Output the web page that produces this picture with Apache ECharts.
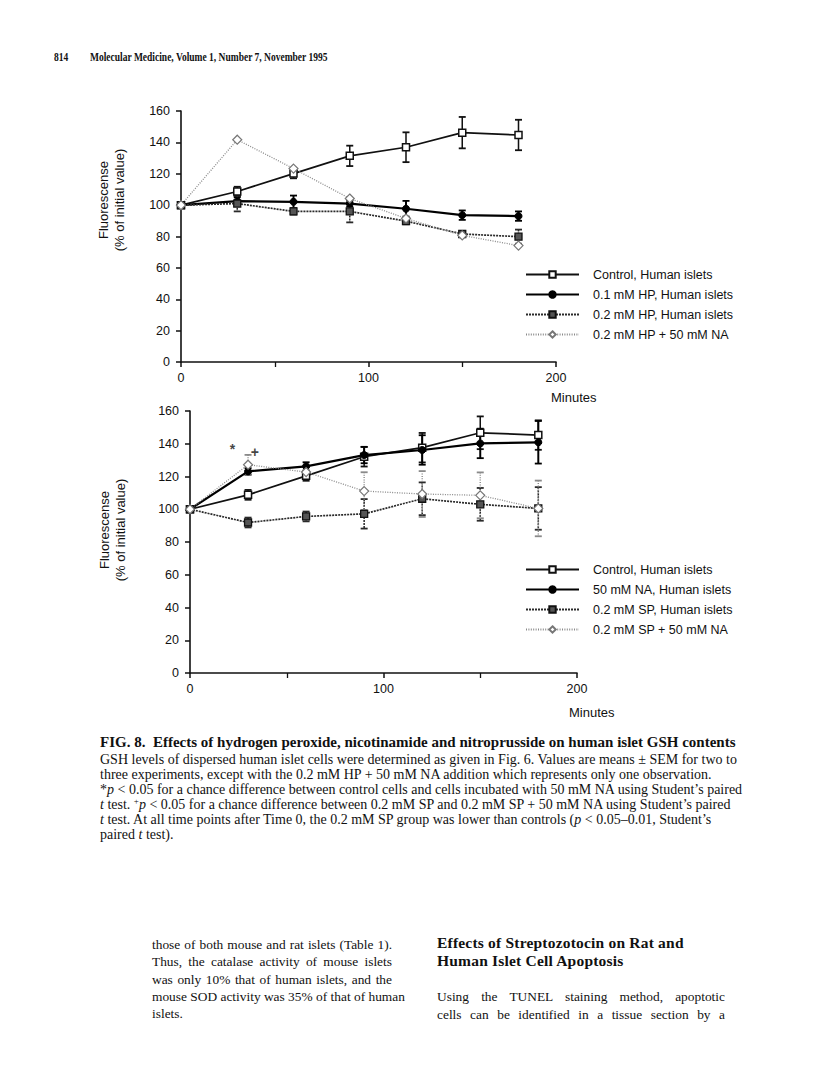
<!DOCTYPE html>
<html>
<head>
<meta charset="utf-8">
<script src="https://cdn.jsdelivr.net/npm/echarts@6/dist/echarts.min.js"></script>
<style>
html,body{margin:0;padding:0;background:#fff;}
#page{position:relative;width:816px;height:1088px;overflow:hidden;background:#fff;}
#chart{position:absolute;left:0;top:0;width:816px;height:1088px;}
.t{position:absolute;white-space:nowrap;font-family:"Liberation Serif","DejaVu Serif",serif;color:#111;}
.hdr{font-size:12.5px;font-weight:bold;line-height:14px;transform-origin:0 50%;transform:scaleX(0.76);}
.cap{font-size:14px;line-height:15px;}
.capt{font-size:15px;font-weight:bold;line-height:16px;}
.body{font-size:13.4px;line-height:17px;text-align:justify;text-align-last:justify;}
.last{text-align-last:left;}
.hd{font-size:15.5px;font-weight:bold;line-height:18px;letter-spacing:0.2px;}
.sp{position:relative;top:-5px;font-size:9px;line-height:0;}
i{font-style:italic;}
</style>
</head>
<body>
<div id="page">
<div id="chart"></div>
<div class="t hdr" style="left:54px;top:50px;">814</div>
<div class="t hdr" style="left:90px;top:50px;">Molecular Medicine, Volume 1, Number 7, November 1995</div>

<div class="t capt" style="left:100px;top:734px;">FIG. 8.&nbsp;&nbsp;Effects of hydrogen peroxide, nicotinamide and nitroprusside on human islet GSH contents</div>
<div class="t cap" style="left:100px;top:752px;">GSH levels of dispersed human islet cells were determined as given in Fig. 6. Values are means ± SEM for two to</div>
<div class="t cap" style="left:100px;top:767px;">three experiments, except with the 0.2 mM HP + 50 mM NA addition which represents only one observation.</div>
<div class="t cap" style="left:100px;top:782px;">*<i>p</i> &lt; 0.05 for a chance difference between control cells and cells incubated with 50 mM NA using Student’s paired</div>
<div class="t cap" style="left:100px;top:797px;"><i>t</i> test. <span class="sp">+</span><i>p</i> &lt; 0.05 for a chance difference between 0.2 mM SP and 0.2 mM SP + 50 mM NA using Student’s paired</div>
<div class="t cap" style="left:100px;top:812px;"><i>t</i> test. At all time points after Time 0, the 0.2 mM SP group was lower than controls (<i>p</i> &lt; 0.05–0.01, Student’s</div>
<div class="t cap" style="left:100px;top:827px;">paired <i>t</i> test).</div>

<div class="t body" style="left:152px;top:936px;width:240px;">those of both mouse and rat islets (Table 1).</div>
<div class="t body" style="left:152px;top:953px;width:240px;">Thus, the catalase activity of mouse islets</div>
<div class="t body" style="left:152px;top:971px;width:240px;">was only 10% that of human islets, and the</div>
<div class="t body" style="left:152px;top:988px;width:240px;">mouse SOD activity was 35% of that of human</div>
<div class="t body last" style="left:152px;top:1005px;width:240px;">islets.</div>

<div class="t hd" style="left:437px;top:934px;">Effects of Streptozotocin on Rat and</div>
<div class="t hd" style="left:437px;top:952px;">Human Islet Cell Apoptosis</div>
<div class="t body" style="left:437px;top:988px;width:288px;">Using the TUNEL staining method, apoptotic</div>
<div class="t body" style="left:437px;top:1006px;width:288px;">cells can be identified in a tissue section by a</div>
</div>
<script>
// ---- data ----
const times = [0, 30, 60, 90, 120, 150, 180];
const xTicks = [0, 100, 200];
const yTicks = [0, 20, 40, 60, 80, 100, 120, 140, 160];

// top panel
const topNames = ['Control, Human islets', '0.1 mM HP, Human islets', '0.2 mM HP, Human islets', '0.2 mM HP + 50 mM NA'];
const topControl    = [100, 108.7, 120.1, 131.4, 136.9, 146.2, 144.7];
const topControlErr = [0, 3, 3, 6.5, 9.5, 10, 9.7];
const topHP01       = [100, 102.5, 102.1, 101.0, 97.7, 93.6, 93.0];
const topHP01Err    = [0, 2.5, 4, 2, 5, 3, 3];
const topHP02       = [100, 101.0, 96.0, 96.0, 89.8, 81.6, 79.9];
const topHP02Err    = [0, 5, 2, 7, 2, 2, 4.5];
const topHPNA       = [100, 141.7, 123.3, 104.2, 91.5, 80.7, 74.2];

// bottom panel
const botNames = ['Control, Human islets', '50 mM NA, Human islets', '0.2 mM SP, Human islets', '0.2 mM SP + 50 mM NA'];
const botControl    = [100, 108.8, 120.4, 132.1, 137.6, 146.7, 145.3];
const botControlErr = [0, 3, 3, 6, 9, 10, 9];
const botNA         = [100, 123.1, 126.2, 133.1, 136.2, 140.2, 140.9];
const botNAErr      = [0, 2, 2.5, 5, 9, 9, 13];
const botSP         = [100, 91.9, 95.6, 97.2, 106.4, 103.0, 100.5];
const botSPErr      = [0, 3, 3, 9, 10, 10, 13];
const botSPNA       = [100, 127.2, 122.7, 111.1, 109.3, 108.5, 100.5];
const botSPNAErr    = [0, 6, 3, 11.5, 14, 14, 17];

// significance marks (minutes, value, label)
const marks = [[22, 136.5, '*'], [33.5, 135, '+']];

// ---- build ----
const FONT = '"Liberation Sans", Arial, sans-serif';
function pairs(ys) { return times.map((t, i) => [t, ys[i]]); }
function errData(ys, es) { return times.map((t, i) => [t, ys[i], es[i]]).filter(d => d[2] > 0); }

const styles = {
  control: { line: { color: '#111', width: 1.7, type: 'solid' }, symbol: 'rect', size: 7, item: { color: '#fff', borderColor: '#111', borderWidth: 1.5 } },
  filled:  { line: { color: '#000', width: 2.2, type: 'solid' }, symbol: 'circle', size: 7, item: { color: '#000', borderColor: '#000', borderWidth: 1 } },
  dark:    { line: { color: '#2a2a2a', width: 1.7, type: [2, 1] }, symbol: 'rect', size: 7, item: { color: '#555', borderColor: '#111', borderWidth: 1.3 } },
  light:   { line: { color: '#8a8a8a', width: 1.3, type: [1, 1.4] }, symbol: 'diamond', size: 9, item: { color: '#fff', borderColor: '#777', borderWidth: 1.2 } }
};

function lineSeries(name, ys, st, gi) {
  return {
    type: 'line', name, data: pairs(ys), xAxisIndex: gi, yAxisIndex: gi,
    symbol: st.symbol, symbolSize: st.size, showSymbol: true,
    lineStyle: st.line, itemStyle: st.item, z: 3, animation: false
  };
}
function errSeries(ys, es, st, gi) {
  const col = st.line.color, dash = Array.isArray(st.line.type) ? st.line.type : null;
  return {
    type: 'custom', xAxisIndex: gi, yAxisIndex: gi, data: errData(ys, es),
    encode: { x: 0, y: 1 }, z: 2, animation: false, silent: true,
    renderItem: function (params, api) {
      const x = api.value(0), y = api.value(1), e = api.value(2);
      const hi = api.coord([x, y + e]), lo = api.coord([x, y - e]);
      const w = 3.5;
      const s = { stroke: col, lineWidth: Math.max(1.4, st.line.width * 0.9), lineDash: dash };
      return { type: 'group', children: [
        { type: 'line', shape: { x1: hi[0], y1: hi[1], x2: lo[0], y2: lo[1] }, style: s },
        { type: 'line', shape: { x1: hi[0] - w, y1: hi[1], x2: hi[0] + w, y2: hi[1] }, style: { stroke: col, lineWidth: 1.8 } },
        { type: 'line', shape: { x1: lo[0] - w, y1: lo[1], x2: lo[0] + w, y2: lo[1] }, style: { stroke: col, lineWidth: 1.8 } }
      ] };
    }
  };
}

function xAxisCfg(gi) {
  return {
    gridIndex: gi, type: 'value', min: xTicks[0], max: xTicks[xTicks.length - 1], interval: xTicks[1] - xTicks[0],
    axisLine: { show: true, onZero: false, lineStyle: { color: '#111', width: 1.6 } },
    axisTick: { show: true, length: 5, lineStyle: { color: '#111', width: 1.5 } },
    minorTick: { show: true, splitNumber: 2, length: 5, lineStyle: { color: '#111', width: 1.3 } },
    splitLine: { show: false },
    axisLabel: { color: '#111', fontFamily: FONT, fontSize: 12.5, margin: 9 }
  };
}
function yAxisCfg(gi) {
  return {
    gridIndex: gi, type: 'value', min: yTicks[0], max: yTicks[yTicks.length - 1], interval: yTicks[1] - yTicks[0],
    axisLine: { show: true, onZero: false, lineStyle: { color: '#111', width: 1.6 } },
    axisTick: { show: true, length: 5, lineStyle: { color: '#111', width: 1.5 } },
    splitLine: { show: false },
    axisLabel: { color: '#111', fontFamily: FONT, fontSize: 12.5, margin: 11 }
  };
}

const topStyles = [styles.control, styles.filled, styles.dark, styles.light];
const topVals = [topControl, topHP01, topHP02, topHPNA];
const topErrs = [topControlErr, topHP01Err, topHP02Err, null];
const botStyles = [styles.control, styles.filled, styles.dark, styles.light];
const botVals = [botControl, botNA, botSP, botSPNA];
const botErrs = [botControlErr, botNAErr, botSPErr, botSPNAErr];

const series = [];
topVals.forEach((v, i) => {
  if (topErrs[i]) series.push(errSeries(v, topErrs[i], topStyles[i], 0));
  series.push(lineSeries(topNames[i], v, topStyles[i], 0));
});
botVals.forEach((v, i) => {
  if (botErrs[i]) series.push(errSeries(v, botErrs[i], botStyles[i], 1));
  series.push(lineSeries(botNames[i], v, botStyles[i], 1));
});
series.push({
  type: 'scatter', xAxisIndex: 1, yAxisIndex: 1, data: marks, symbolSize: 1,
  itemStyle: { color: 'rgba(0,0,0,0)' }, silent: true, animation: false,
  label: { show: true, position: 'inside', formatter: p => p.value[2], color: '#111', fontFamily: FONT, fontSize: 14, fontWeight: 'bold' }
});

function legendCfg(names, top) {
  return {
    data: names, orient: 'vertical', left: 520, top: top, itemWidth: 53, itemHeight: 8, itemGap: 5,
    selectedMode: false,
    textStyle: { color: '#111', fontFamily: FONT, fontSize: 12.5, padding: [0, 0, 0, 9], lineHeight: 15 }
  };
}

const option = {
  backgroundColor: 'transparent',
  animation: false,
  grid: [
    { left: 181, top: 111, width: 375, height: 251 },
    { left: 190, top: 411, width: 387, height: 262 }
  ],
  xAxis: [xAxisCfg(0), xAxisCfg(1)],
  yAxis: [yAxisCfg(0), yAxisCfg(1)],
  legend: [legendCfg(topNames, 262), legendCfg(botNames, 557)],
  graphic: [
    { type: 'text', x: 111, y: 200, rotation: Math.PI / 2, style: { text: 'Fluorescense\n(% of initial value)', align: 'center', verticalAlign: 'middle', font: '13px ' + FONT, lineHeight: 16, fill: '#111' } },
    { type: 'text', x: 112, y: 530, rotation: Math.PI / 2, style: { text: 'Fluorescense\n(% of initial value)', align: 'center', verticalAlign: 'middle', font: '13px ' + FONT, lineHeight: 16, fill: '#111' } },
    { type: 'text', x: 551, y: 397, style: { text: 'Minutes', verticalAlign: 'middle', font: '13px ' + FONT, fill: '#111' } },
    { type: 'text', x: 569, y: 712, style: { text: 'Minutes', verticalAlign: 'middle', font: '13px ' + FONT, fill: '#111' } }
  ],
  series: series
};

const chart = echarts.init(document.getElementById('chart'), null, { renderer: 'svg', width: 816, height: 1088 });
chart.setOption(option);
</script>
</body>
</html>
